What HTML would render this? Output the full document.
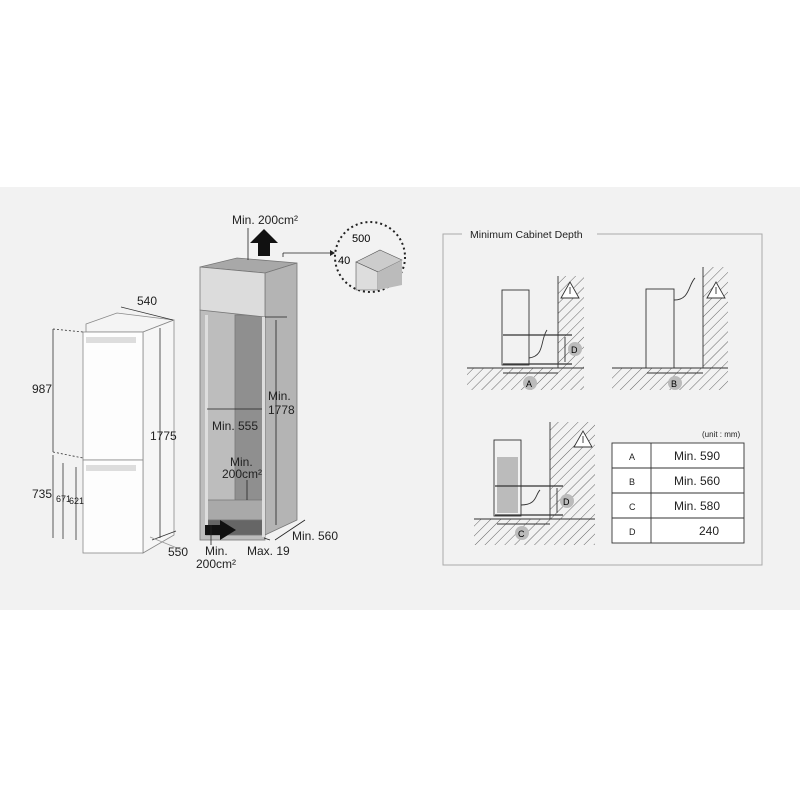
<!DOCTYPE html>
<html><head><meta charset="utf-8"><style>
body{margin:0;background:#fff}
svg{display:block;font-family:"Liberation Sans",sans-serif}
</style></head><body>
<svg width="800" height="800" viewBox="0 0 800 800" xmlns="http://www.w3.org/2000/svg">
<defs>
<pattern id="h" width="7" height="7" patternUnits="userSpaceOnUse" patternTransform="rotate(45)">
<line x1="0" y1="0" x2="0" y2="7" stroke="#555" stroke-width="0.9"/>
</pattern>
</defs>
<rect x="0" y="0" width="800" height="800" fill="#fff"/>
<rect x="0" y="187" width="800" height="423" fill="#f2f2f2"/>

<!-- Fridge -->
<g stroke="#888" stroke-width="0.8">
<polygon points="86,324 117,313 174,320 143,332 86,332" fill="#f4f4f4"/>
<polygon points="143,332 174,320 174,535 143,553" fill="#f6f6f6"/>
<rect x="83" y="332" width="60" height="128" fill="#fdfdfd"/>
<rect x="83" y="460" width="60" height="93" fill="#fdfdfd"/>
</g>
<rect x="86" y="337" width="50" height="6" fill="#ddd"/>
<rect x="86" y="465" width="50" height="6" fill="#ddd"/>
<g stroke="#333" stroke-width="0.8" fill="none">
<line x1="53" y1="329" x2="53" y2="452"/><line x1="53" y1="455" x2="53" y2="538"/>
<line x1="63" y1="463" x2="63" y2="539"/><line x1="76" y1="467" x2="76" y2="540"/>
<line x1="160" y1="328" x2="160" y2="538"/>
<line x1="121" y1="307" x2="173" y2="320"/>
<line x1="152" y1="540" x2="176" y2="531"/>
<line x1="150" y1="537" x2="182" y2="550" stroke="#999"/>
<line x1="53" y1="329" x2="83" y2="332" stroke-dasharray="2,2"/>
<line x1="53" y1="452" x2="83" y2="458" stroke-dasharray="2,2"/>
</g>
<g font-size="12" fill="#222">
<text x="137" y="305">540</text>
<text x="32" y="393">987</text>
<text x="32" y="498">735</text>
<text x="56" y="502" font-size="9">671</text>
<text x="69" y="504" font-size="9">621</text>
<text x="150" y="440">1775</text>
<text x="168" y="556">550</text>
</g>

<!-- Cabinet -->
<g stroke="#777" stroke-width="0.8">
<polygon points="200,267 237,258 297,263 265,273" fill="#a8a8a8"/>
<polygon points="265,273 297,263 297,520 265,535" fill="#b4b4b4"/>
<rect x="200" y="310" width="65" height="230" fill="#bdbdbd"/>
<rect x="235" y="315" width="30" height="185" fill="#8f8f8f"/>
<polygon points="206,500 235,500 265,500 265,525 206,522" fill="#a9a9a9"/>
<rect x="206" y="520" width="59" height="15" fill="#666"/>
<polygon points="200,267 265,273 265,317 200,310" fill="#dcdcdc"/>
</g>
<rect x="205" y="315" width="3" height="220" fill="#ddd"/>
<rect x="262" y="317" width="3" height="220" fill="#ddd"/>
<polygon points="258,256 270,256 270,243 278,243 264,229 250,243 258,243" fill="#111"/>
<polygon points="205,525 220,525 220,520 236,530 220,540 220,535 205,535" fill="#111"/>
<g stroke="#222" stroke-width="0.8" fill="none">
<line x1="248" y1="228" x2="248" y2="260"/>
<line x1="207" y1="409" x2="262" y2="409"/>
<line x1="276" y1="320" x2="276" y2="525"/>
<line x1="265" y1="317" x2="287" y2="317"/>
<line x1="247" y1="480" x2="247" y2="500"/>
<line x1="211" y1="525" x2="211" y2="545"/>
<line x1="264" y1="538" x2="270" y2="540"/>
<line x1="275" y1="540" x2="305" y2="520"/>
<line x1="283" y1="257" x2="283" y2="253"/><line x1="283" y1="253" x2="330" y2="253"/>
</g>
<polygon points="330,250 335,253 330,256" fill="#222"/>
<g font-size="12" fill="#222">
<text x="232" y="224">Min. 200cm²</text>
<text x="268" y="400">Min.</text><text x="268" y="414">1778</text>
<text x="212" y="430">Min. 555</text>
<text x="230" y="466">Min.</text><text x="222" y="478">200cm²</text>
<text x="205" y="555">Min.</text><text x="196" y="568">200cm²</text>
<text x="247" y="555">Max. 19</text>
<text x="292" y="540">Min. 560</text>
</g>
<!-- detail circle -->
<circle cx="370" cy="257" r="35" fill="#f2f2f2" stroke="#222" stroke-width="2" stroke-dasharray="2,3"/>
<polygon points="356,262 380,250 402,260 378,272" fill="#ccc" stroke="#555" stroke-width="0.6"/>
<polygon points="356,262 378,272 378,290 356,290" fill="#ddd" stroke="#555" stroke-width="0.6"/>
<polygon points="378,272 402,260 402,285 378,290" fill="#bbb"/>
<text x="352" y="242" font-size="11">500</text>
<text x="338" y="264" font-size="11">40</text>

<!-- Right panel -->
<rect x="443" y="234" width="319" height="331" fill="none" stroke="#aaa" stroke-width="1"/>
<rect x="462" y="226" width="135" height="14" fill="#f2f2f2"/>
<text x="470" y="238" font-size="10.5" fill="#222">Minimum Cabinet Depth</text>

<!-- A -->
<rect x="558" y="276" width="26" height="92" fill="url(#h)"/>
<rect x="467" y="368" width="117" height="22" fill="url(#h)"/>
<g stroke="#333" stroke-width="0.9" fill="none">
<line x1="558" y1="276" x2="558" y2="368"/><line x1="467" y1="368" x2="584" y2="368"/>
<rect x="502" y="290" width="27" height="75" fill="#f2f2f2"/>
<line x1="503" y1="335" x2="572" y2="335" stroke-width="1.3"/><line x1="503" y1="364" x2="572" y2="364" stroke-width="1.3"/>
<line x1="565" y1="337" x2="565" y2="362"/>
<line x1="503" y1="373" x2="558" y2="373"/>
<path d="M529,358 C545,356 540,340 547,330"/>
<polygon points="561,298 570,282 579,298" fill="#fff"/>
<line x1="570" y1="287" x2="570" y2="294"/>
</g>
<circle cx="575" cy="349" r="7" fill="#bbb"/><text x="571" y="353" font-size="9">D</text>
<circle cx="530" cy="383" r="7" fill="#bbb"/><text x="526" y="387" font-size="9">A</text>

<!-- B -->
<rect x="703" y="267" width="25" height="101" fill="url(#h)"/>
<rect x="612" y="368" width="116" height="22" fill="url(#h)"/>
<g stroke="#333" stroke-width="0.9" fill="none">
<line x1="703" y1="267" x2="703" y2="368"/><line x1="612" y1="368" x2="728" y2="368"/>
<rect x="646" y="289" width="28" height="79" fill="#f2f2f2"/>
<line x1="647" y1="373" x2="703" y2="373"/>
<path d="M674,300 C690,300 688,285 695,278"/>
<polygon points="707,298 716,282 725,298" fill="#fff"/>
<line x1="716" y1="287" x2="716" y2="294"/>
</g>
<circle cx="675" cy="383" r="7" fill="#bbb"/><text x="671" y="387" font-size="9">B</text>

<!-- C -->
<rect x="550" y="422" width="45" height="97" fill="url(#h)"/>
<rect x="474" y="519" width="121" height="26" fill="url(#h)"/>
<g stroke="#333" stroke-width="0.9" fill="none">
<line x1="550" y1="422" x2="550" y2="519"/><line x1="474" y1="519" x2="595" y2="519"/>
<rect x="494" y="440" width="27" height="76" fill="#f2f2f2"/>
<rect x="497" y="457" width="21" height="56" fill="#bbb" stroke="none"/>
<line x1="495" y1="486" x2="563" y2="486" stroke-width="1.3"/><line x1="495" y1="515" x2="563" y2="515" stroke-width="1.3"/>
<line x1="557" y1="488" x2="557" y2="513"/>
<line x1="497" y1="524" x2="550" y2="524"/>
<path d="M521,505 C537,505 535,495 540,490"/>
<polygon points="574,447 583,431 592,447" fill="#fff"/>
<line x1="583" y1="436" x2="583" y2="443"/>
</g>
<circle cx="567" cy="501" r="7" fill="#bbb"/><text x="563" y="505" font-size="9">D</text>
<circle cx="522" cy="533" r="7" fill="#bbb"/><text x="518" y="537" font-size="9">C</text>

<!-- Table -->
<text x="702" y="437" font-size="8" fill="#222">(unit : mm)</text>
<g stroke="#333" stroke-width="0.9" fill="#fff">
<rect x="612" y="443" width="132" height="100"/>
<line x1="651" y1="443" x2="651" y2="543"/>
<line x1="612" y1="468" x2="744" y2="468"/><line x1="612" y1="493" x2="744" y2="493"/><line x1="612" y1="518" x2="744" y2="518"/>
</g>
<g font-size="9" fill="#222"><text x="629" y="460">A</text><text x="629" y="485">B</text><text x="629" y="510">C</text><text x="629" y="535">D</text></g>
<g font-size="12" fill="#222"><text x="674" y="460">Min. 590</text><text x="674" y="485">Min. 560</text><text x="674" y="510">Min. 580</text><text x="699" y="535">240</text></g>
</svg>
</body></html>
